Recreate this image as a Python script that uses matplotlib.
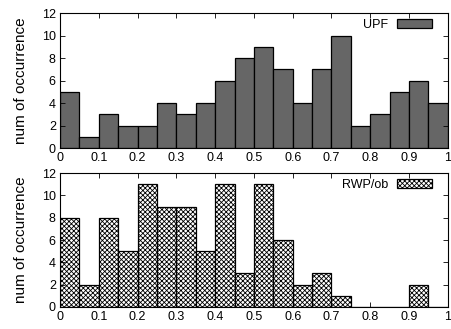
import numpy as np
import matplotlib
matplotlib.use("Agg")
import matplotlib.pyplot as plt

plt.rcParams['font.family'] = ['Liberation Sans', 'DejaVu Sans']
plt.rcParams['hatch.linewidth'] = 0.6

# bin left edges (width 0.05) and counts
bin_edges = np.arange(0, 1.0001, 0.05)
upf_counts = [5, 1, 3, 2, 2, 4, 3, 4, 6, 8, 9, 7, 4, 7, 10, 2, 3, 5, 6, 4]
rwp_counts = [8, 2, 8, 5, 11, 9, 9, 5, 11, 3, 11, 6, 2, 3, 1, 0, 0, 0, 2, 0]
x_ticks = [0, 0.1, 0.2, 0.3, 0.4, 0.5, 0.6, 0.7, 0.8, 0.9, 1]
x_tick_labels = ['0', '0.1', '0.2', '0.3', '0.4', '0.5', '0.6', '0.7', '0.8', '0.9', '1']
y_ticks = [0, 2, 4, 6, 8, 10, 12]

fig = plt.figure(figsize=(4.51, 3.29), dpi=100)
ax1 = fig.add_axes([0.133, 0.550, 0.860, 0.410])
ax2 = fig.add_axes([0.133, 0.067, 0.860, 0.407])

lefts = bin_edges[:-1]
ax1.bar(lefts, upf_counts, width=0.05, align='edge', color='#666666',
        edgecolor='black', linewidth=0.9, label='UPF')
ax2.bar(lefts, rwp_counts, width=0.05, align='edge', color='white',
        edgecolor='black', hatch='xxxxxxx', linewidth=0.9, label='RWP/ob')

for ax in (ax1, ax2):
    ax.set_xlim(0, 1)
    ax.set_ylim(0, 12)
    ax.set_xticks(x_ticks)
    ax.set_xticklabels(x_tick_labels)
    ax.set_yticks(y_ticks)
    ax.tick_params(direction='in', top=True, right=True, length=3.5,
                   width=0.6, labelsize=9, pad=3)
    for s in ax.spines.values():
        s.set_linewidth(0.8)
    ax.set_ylabel('num of occurrence', fontsize=11, labelpad=10)
    ax.legend(loc='upper right', bbox_to_anchor=(0.959, 0.955),
              markerfirst=False, frameon=False, fontsize=9,
              handlelength=2.8, handleheight=0.7, borderaxespad=0,
              borderpad=0, handletextpad=0.7)

fig.savefig('out.png', dpi=100)
